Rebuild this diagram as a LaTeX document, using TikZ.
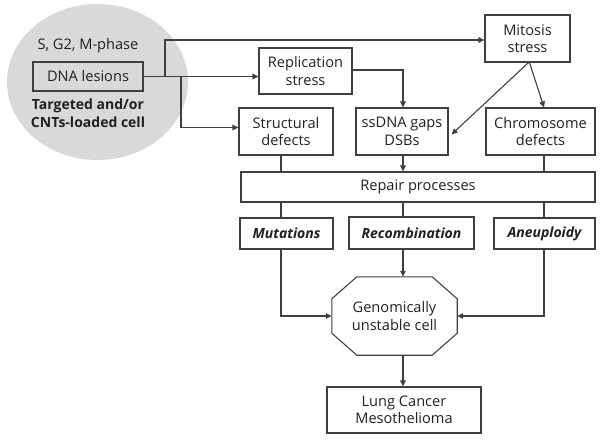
\documentclass[tikz,border=0pt]{standalone}
\usepackage{fontspec}
\setmainfont{Open Sans}
\usetikzlibrary{arrows.meta,shapes.geometric}
\definecolor{ln}{HTML}{404040}
\definecolor{tx}{HTML}{231F20}
\definecolor{cellfill}{HTML}{D9D9D9}
\newcommand{\fs}{\fontsize{14.6}{17.5}\selectfont}
\newcommand{\fb}{\fontsize{14}{17}\selectfont}
\tikzset{
  box/.style={draw=ln, line width=1.1pt, rectangle, inner sep=0pt, align=center, text=tx, font=\fs},
  conn/.style={draw=ln, line width=1.1pt},
  arr/.style={conn, -{Triangle[length=6pt,width=5.5pt]}},
  lbl/.style={text=tx, align=center, inner sep=0pt}
}
\begin{document}
\begin{tikzpicture}[x=1pt,y=-1pt]
\useasboundingbox (0,0) rectangle (602,441);
\node[ellipse, fill=cellfill, minimum width=181pt, minimum height=156pt, inner sep=0pt] (cell) at (97.5,82) {};
\node[lbl, font=\fs] (phase) at (88,46) {S, G2, M-phase};
\node[box, minimum width=110pt, minimum height=29pt] (dna) at (88,76.5) {DNA lesions};
\node[lbl, font=\fontsize{14}{18}\selectfont\bfseries] (target) at (88,113) {Targeted and/or\\CNTs-loaded cell};

\node[box, minimum width=93pt, minimum height=46pt] (rep) at (305.5,71) {Replication\\stress};
\node[box, minimum width=85pt, minimum height=47pt] (mit) at (527.5,38.5) {Mitosis\\stress};
\node[box, minimum width=94pt, minimum height=47pt] (struct) at (286,131.5) {Structural\\defects};
\node[box, minimum width=92pt, minimum height=47pt] (ssdna) at (402,131.5) {ssDNA gaps\\DSBs};
\node[box, minimum width=109pt, minimum height=47pt] (chrom) at (540.5,131.5) {Chromosome\\defects};
\node[box, minimum width=354pt, minimum height=30pt] (repair) at (418,187) {Repair processes};
\node[box, minimum width=93pt, minimum height=31pt, font=\fb\bfseries\itshape] (mut) at (286.5,233.5) {Mutations};
\node[box, minimum width=125pt, minimum height=32pt, font=\fb\bfseries\itshape] (rec) at (411.5,233) {Recombination};
\node[box, minimum width=101pt, minimum height=31pt, font=\fb\bfseries\itshape] (aneu) at (544.5,233.5) {Aneuploidy};
\node[lbl, minimum width=125pt, minimum height=78pt, font=\fs] (oct) at (394.5,316) {Genomically\\unstable cell};
\draw[conn] ([xshift=25pt]oct.north west) -- ([xshift=-25pt]oct.north east) -- ([yshift=-22pt]oct.north east) -- ([yshift=22pt]oct.south east) -- ([xshift=-25pt]oct.south east) -- ([xshift=25pt]oct.south west) -- ([yshift=22pt]oct.south west) -- ([yshift=-22pt]oct.north west) -- cycle;
\node[box, minimum width=154pt, minimum height=46pt] (lung) at (404,410) {Lung Cancer\\Mesothelioma};

\coordinate (j1) at (165,76.5);
\coordinate (j2) at (181,76.5);
\coordinate (cx1) at (281,0);
\coordinate (cx2) at (403,0);
\coordinate (cx3) at (544,0);

\draw[arr] (dna.east) -- (j1) |- ([yshift=-1.5pt]mit.west);
\draw[arr] (dna.east) -- (rep.west |- dna.east);
\draw[arr] (j2) |- ([yshift=4pt]struct.west);
\draw[arr] ([yshift=1pt]rep.east) -| (ssdna.north -| cx2);
\draw[arr] ([xshift=1pt]mit.south) -- ([xshift=3pt,yshift=-3pt]ssdna.east);
\draw[arr] ([xshift=2pt]mit.south) -- (chrom.north -| cx3);
\draw[conn] (struct.south -| cx1) -- (repair.north -| cx1);
\draw[arr] (ssdna.south -| cx2) -- (repair.north -| cx2);
\draw[conn] (chrom.south -| cx3) -- (repair.north -| cx3);
\draw[conn] (repair.south -| cx1) -- (mut.north -| cx1);
\draw[conn] (repair.south -| cx2) -- (rec.north -| cx2);
\draw[conn] (repair.south -| cx3) -- (aneu.north -| cx3);
\draw[arr] (mut.south -| cx1) |- (oct.west);
\draw[arr] (rec.south -| cx2) -- (oct.north -| cx2);
\draw[arr] (aneu.south -| cx3) |- (oct.east);
\draw[arr] (oct.south -| cx2) -- (lung.north -| cx2);
\end{tikzpicture}
\end{document}
